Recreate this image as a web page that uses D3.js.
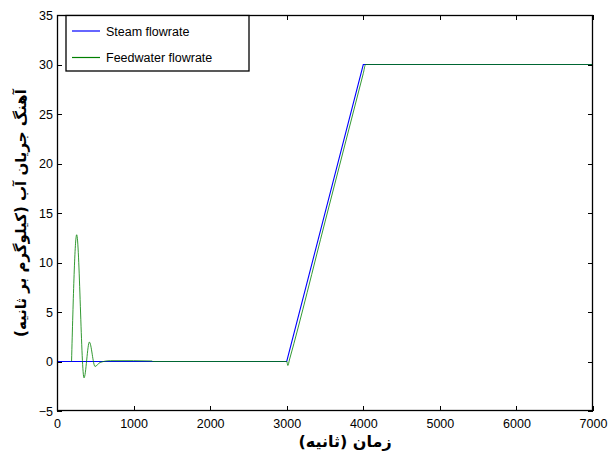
<!DOCTYPE html>
<html lang="fa">
<head>
<meta charset="utf-8">
<title>Flowrate</title>
<style>
  body { margin: 0; background: #fff; }
  .tick-label { font: 12.5px "Liberation Sans", Arial, sans-serif; fill: #000; }
  .legend-text { font: 12.5px "Liberation Sans", Arial, sans-serif; fill: #000; }
  .axis-title { font-family: "DejaVu Sans", sans-serif; font-weight: bold; font-size: 16px; fill: #000; }
</style>
</head>
<body>
<svg width="609" height="457"></svg>
<script src="https://d3js.org/d3.v7.min.js"></script>
<script>

// data
var steamTime = [0, 3000, 4000, 7000];
var steamFlow = [0, 0, 30, 30];

var feedTime = [190, 257, 353, 423, 497, 562, 700, 1000, 1240, 1250, 3000, 3015, 3035, 3500, 4000, 4030, 7000];
var feedFlow = [0, 12.8, -1.65, 1.96, -0.5, -0.1, 0.08, 0.08, 0.05, 0, 0, -0.4, 0.15, 14.1, 29.1, 30, 30];

var xTicks = [0, 1000, 2000, 3000, 4000, 5000, 6000, 7000];
var yTicks = [-5, 0, 5, 10, 15, 20, 25, 30, 35];

var seriesNames = ["Steam flowrate", "Feedwater flowrate"];
var seriesColors = ["#0000ff", "#008000"];

var xTitle = "زمان (ثانیه)";
var yTitle = "آهنگ جریان آب (کیلوگرم بر ثانیه)";

var svg = d3.select("svg"),
    plotL = 57, plotR = 593, plotT = 15, plotB = 411;

var x = d3.scaleLinear().domain([0, 7000]).range([plotL, plotR]);
var y = d3.scaleLinear().domain([-5, 35]).range([plotB, plotT]);

// axes, ticks pointing inward on all four sides (matlab box)
var tickLen = 5;
var gx = svg.append("g").attr("transform", "translate(0," + plotB + ")")
    .call(d3.axisBottom(x).tickValues(xTicks).tickSize(-tickLen).tickFormat(d3.format("d")));
svg.append("g").attr("transform", "translate(0," + plotT + ")")
    .call(d3.axisTop(x).tickValues(xTicks).tickSize(-tickLen).tickFormat(""));
var gy = svg.append("g").attr("transform", "translate(" + plotL + ",0)")
    .call(d3.axisLeft(y).tickValues(yTicks).tickSize(-tickLen).tickFormat(d3.format("d")));
svg.append("g").attr("transform", "translate(" + plotR + ",0)")
    .call(d3.axisRight(y).tickValues(yTicks).tickSize(-tickLen).tickFormat(""));

svg.selectAll(".domain").remove();
svg.selectAll(".tick line").attr("stroke", "#000").attr("shape-rendering", "crispEdges");
svg.selectAll(".tick text").attr("class", "tick-label").attr("fill", "#000");
gx.selectAll(".tick text").attr("dy", null).attr("y", 17);
gy.selectAll(".tick text").attr("x", -4);

var line = d3.line()
    .x(function(d) { return x(d[0]); })
    .y(function(d) { return y(d[1]); });

var steam = d3.zip(steamTime, steamFlow);
var feed = d3.zip(feedTime, feedFlow);

svg.append("path")
    .datum(steam)
    .attr("fill", "none")
    .attr("stroke", seriesColors[0])
    .attr("stroke-width", 1.1)
    .attr("d", line);

svg.append("path")
    .datum(feed)
    .attr("fill", "none")
    .attr("stroke", seriesColors[1])
    .attr("stroke-width", 1)
    .attr("stroke-opacity", 0.8)
    .attr("d", line.curve(d3.curveMonotoneX));

// box
svg.append("rect")
    .attr("x", plotL + 0.5).attr("y", plotT + 0.5)
    .attr("width", plotR - plotL - 1).attr("height", plotB - plotT - 1)
    .attr("fill", "none").attr("stroke", "#000").attr("stroke-width", 1.3);

// legend
var lg = svg.append("g");
lg.append("rect")
    .attr("x", 66).attr("y", 15.5).attr("width", 183).attr("height", 55.5)
    .attr("fill", "#fff").attr("stroke", "#000").attr("stroke-width", 1.3);
seriesNames.forEach(function(name, i) {
  var ly = 31 + i * 26.5;
  lg.append("line")
      .attr("x1", 72).attr("x2", 100).attr("y1", ly).attr("y2", ly)
      .attr("stroke", seriesColors[i]).attr("stroke-width", 1.2);
  lg.append("text")
      .attr("class", "legend-text")
      .attr("x", 106).attr("y", ly + 4.5)
      .text(name);
});

// titles
svg.append("text")
    .attr("class", "axis-title")
    .attr("x", 345).attr("y", 447)
    .attr("text-anchor", "middle")
    .style("direction", "rtl")
    .text(xTitle);

svg.append("text")
    .attr("class", "axis-title")
    .attr("transform", "translate(26," + (plotT + plotB) / 2 + ") rotate(-90)")
    .attr("text-anchor", "middle")
    .style("direction", "rtl")
    .style("font-size", "15px")
    .text(yTitle);

</script>
</body>
</html>
